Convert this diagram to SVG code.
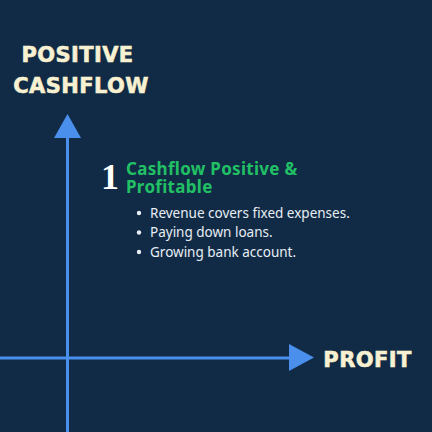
<svg xmlns="http://www.w3.org/2000/svg" width="432" height="432" viewBox="0 0 432 432">
<style>
.axis{stroke:#4a8fec;stroke-width:3;fill:none}
.head{fill:#4a8fec}
.lbl{font-family:"DejaVu Sans",sans-serif;font-weight:bold;font-size:21px;fill:#f7f1d2;stroke:#f7f1d2;stroke-width:0.6;letter-spacing:0.4px}
.title{font-family:"Noto Sans",sans-serif;font-weight:bold;font-size:17px;fill:#22c065;letter-spacing:0.3px}
.item{font-family:"Noto Sans",sans-serif;font-size:13.5px;fill:#e8eef5}
.num{font-family:"Liberation Serif",serif;font-weight:bold;font-size:36px;fill:#ffffff}
</style>
<rect width="432" height="432" fill="#112b46"/>
<g id="connectors">
<line class="axis" x1="67.5" y1="136" x2="67.5" y2="432"/>
<polygon class="head" points="54,138 67.5,114 81,138"/>
<line class="axis" x1="0" y1="358" x2="292" y2="358"/>
<polygon class="head" points="289,344 314,357.5 289,371"/>
</g>
<g id="y-label">
<text class="lbl" x="77.5" y="62" text-anchor="middle">POSITIVE</text>
<text class="lbl" x="81" y="93" text-anchor="middle">CASHFLOW</text>
</g>
<g id="x-label">
<text class="lbl" x="367.5" y="367" text-anchor="middle">PROFIT</text>
</g>
<g id="quadrant">
<text class="num" x="101" y="189">1</text>
<text class="title" x="126" y="175">Cashflow Positive &amp;</text>
<text class="title" x="126" y="193">Profitable</text>
<circle cx="139" cy="213" r="2.2" fill="#e8eef5"/>
<circle cx="139" cy="232.5" r="2.2" fill="#e8eef5"/>
<circle cx="139" cy="252" r="2.2" fill="#e8eef5"/>
<text class="item" x="150" y="217.5">Revenue covers fixed expenses.</text>
<text class="item" x="150" y="237">Paying down loans.</text>
<text class="item" x="150" y="256.5">Growing bank account.</text>
</g>
</svg>
